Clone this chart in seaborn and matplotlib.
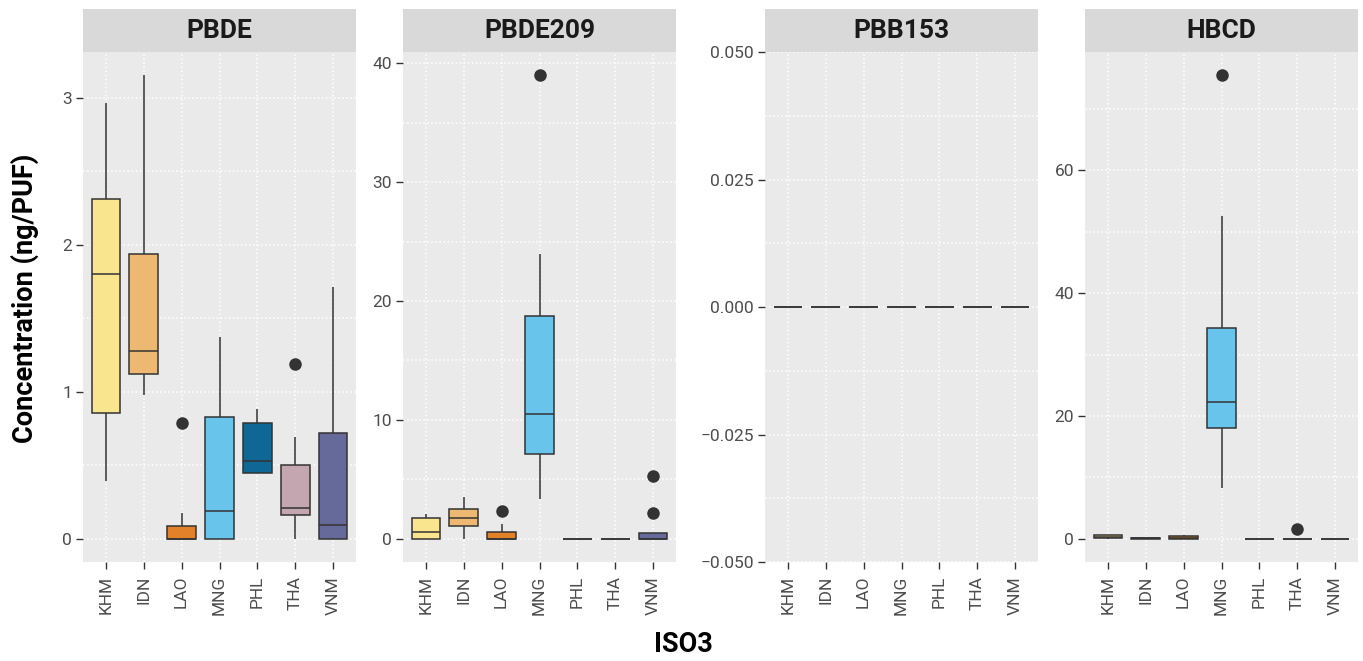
import numpy as np
import pandas as pd
import seaborn as sns
import matplotlib
matplotlib.use("Agg")
import matplotlib.pyplot as plt
from matplotlib.ticker import MultipleLocator, AutoMinorLocator, FuncFormatter
from matplotlib.patches import Rectangle

# Countries (x categories) and compounds (facets)
COUNTRIES = ["KHM", "IDN", "LAO", "MNG", "PHL", "THA", "VNM"]
COMPOUNDS = ["PBDE", "PBDE209", "PBB153", "HBCD"]
COLORS = ["#F8E58D", "#EDB972", "#E1822A", "#69C4EC", "#0F6796", "#C4A6B0", "#666A9B"]

# Concentrations (ng/PUF) per country, in COUNTRIES order
PBDE = [
    [0.39, 0.856, 1.797, 2.311, 2.966],
    [0.976, 1.12, 1.278, 1.938, 3.152],
    [0.0, 0.0, 0.0, 0.0, 0.0, 0.04, 0.086, 0.175, 0.79],
    [0.0, 0.0, 0.192, 0.83, 1.372],
    [0.448, 0.448, 0.528, 0.79, 0.884],
    [0.0, 0.1, 0.161, 0.18, 0.207, 0.35, 0.505, 0.692, 1.189],
    [0.0, 0.0, 0.092, 0.718, 1.711],
]
PBDE209 = [
    [0.0, 0.0, 0.57, 1.77, 2.06],
    [0.0, 1.06, 1.74, 2.52, 3.55],
    [0.0, 0.0, 0.0, 0.0, 0.0, 0.3, 0.6, 1.24, 2.38],
    [3.37, 5.5, 7.17, 9.0, 10.47, 14.0, 18.78, 23.96, 39.0],
    [0.0, 0.0, 0.0, 0.0, 0.0],
    [0.0, 0.0, 0.0, 0.0, 0.0],
    [0.0, 0.0, 0.0, 0.0, 0.0, 0.2, 0.53, 2.17, 5.29],
]
PBB153 = [
    [0.0, 0.0, 0.0, 0.0, 0.0],
    [0.0, 0.0, 0.0, 0.0, 0.0],
    [0.0, 0.0, 0.0, 0.0, 0.0],
    [0.0, 0.0, 0.0, 0.0, 0.0],
    [0.0, 0.0, 0.0, 0.0, 0.0],
    [0.0, 0.0, 0.0, 0.0, 0.0],
    [0.0, 0.0, 0.0, 0.0, 0.0],
]
HBCD = [
    [0.0, 0.1, 0.3, 0.55, 0.6],
    [0.0, 0.05, 0.1, 0.15, 0.2],
    [0.0, 0.0, 0.15, 0.4, 0.7],
    [8.25, 12.0, 18.0, 20.0, 22.2, 28.0, 34.4, 52.6, 75.5],
    [0.0, 0.0, 0.0, 0.0, 0.0],
    [0.0, 0.0, 0.0, 0.0, 0.0, 1.58],
    [0.0, 0.0, 0.0, 0.0, 0.0],
]
Y_STEPS = [1, 10, 0.025, 20]

SERIES = [PBDE, PBDE209, PBB153, HBCD]

rows = []
for comp, series in zip(COMPOUNDS, SERIES):
    for iso, vals in zip(COUNTRIES, series):
        for v in vals:
            rows.append((comp, iso, v))
df = pd.DataFrame(rows, columns=["compound", "ISO3", "value"])

sns.set_theme(style="white")
plt.rcParams["font.family"] = ["Roboto", "DejaVu Sans"]

W, H = 1363, 661
fig = plt.figure(figsize=(W / 100, H / 100), dpi=100)

PANEL_LEFT = [83, 403, 765, 1085]
PANEL_W = 273
PANEL_TOP, PANEL_BOT = 52, 562
STRIP_TOP = 9
EDGE = "#333333"
TXT = "#4D4D4D"
palette = dict(zip(COUNTRIES, COLORS))


def minus_fmt(step):
    dec = 0
    if step < 1:
        dec = len(str(step).split(".")[1])

    def f(v, pos):
        s = f"{v:.{dec}f}"
        if s.startswith("-"):
            s = "\u2212" + s[1:]
        return s
    return FuncFormatter(f)


for i, comp in enumerate(COMPOUNDS):
    x0 = PANEL_LEFT[i]
    ax = fig.add_axes([x0 / W, 1 - PANEL_BOT / H, PANEL_W / W, (PANEL_BOT - PANEL_TOP) / H])
    ax.set_facecolor("#EBEAEB")
    sub = df[df["compound"] == comp]
    sns.boxplot(
        data=sub, x="ISO3", y="value", hue="ISO3", order=COUNTRIES,
        hue_order=COUNTRIES, palette=palette, saturation=1, width=0.75,
        linewidth=1.1, linecolor=EDGE, fliersize=8, legend=False, showcaps=False,
        flierprops=dict(marker="o", markerfacecolor=EDGE, markeredgecolor=EDGE),
        ax=ax,
    )
    vmin, vmax = sub["value"].min(), sub["value"].max()
    if vmax - vmin == 0:
        ax.set_ylim(-0.05, 0.05)
    else:
        r = vmax - vmin
        ax.set_ylim(vmin - 0.05 * r, vmax + 0.05 * r)
    ax.set_xlim(-0.6, 6.6)

    step = Y_STEPS[i]
    ax.yaxis.set_major_locator(MultipleLocator(step))
    ax.yaxis.set_minor_locator(AutoMinorLocator(2))
    ax.yaxis.set_major_formatter(minus_fmt(step))
    ax.set_axisbelow(True)
    ax.grid(which="major", axis="both", color="white", linestyle=":", linewidth=1.1)
    ax.grid(which="minor", axis="y", color="white", linestyle=":", linewidth=1.1)
    for s in ax.spines.values():
        s.set_visible(False)
    ax.tick_params(axis="both", which="major", length=5, width=1, color=EDGE,
                   labelsize=12.5, labelcolor=TXT, pad=3, left=True, bottom=True)
    ax.tick_params(axis="x", which="major", pad=5)
    ax.tick_params(axis="y", which="minor", length=0)
    ax.tick_params(axis="x", labelrotation=90)
    ax.set_xlabel("")
    ax.set_ylabel("")

    # facet strip
    fig.add_artist(Rectangle((x0 / W, 1 - PANEL_TOP / H), PANEL_W / W,
                             (PANEL_TOP - STRIP_TOP) / H, transform=fig.transFigure,
                             facecolor="#D9D9D9", edgecolor="none"))
    fig.text((x0 + PANEL_W / 2) / W, 1 - (PANEL_TOP + STRIP_TOP) / 2 / H, comp,
             ha="center", va="center", fontsize=19, fontweight="bold", color="#1A1A1A")

fig.text(25 / W, 1 - 298 / H, "Concentration (ng/PUF)", rotation=90,
         ha="center", va="center", fontsize=19.5, fontweight="bold", color="black")
fig.text(683 / W, 1 - 645 / H, "ISO3", ha="center", va="center",
         fontsize=19.5, fontweight="bold", color="black")

fig.savefig("out.png", dpi=100)
